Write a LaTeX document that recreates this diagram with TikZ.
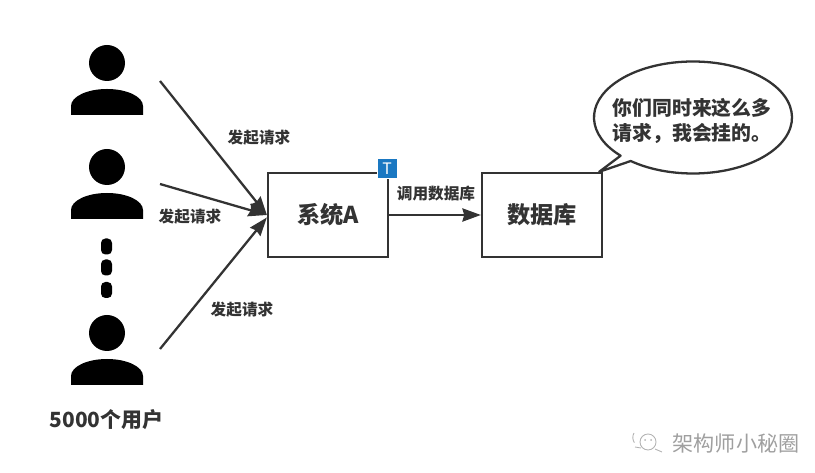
\documentclass[tikz,border=0pt]{standalone}
\usepackage{fontspec}
\setmainfont{Noto Sans CJK SC}
\usetikzlibrary{arrows.meta}
\definecolor{inkgray}{HTML}{333333}
\definecolor{badgeblue}{HTML}{1A78C2}
\begin{document}
\begin{tikzpicture}[x=0.02cm, y=0.02cm, >={Stealth[length=10.5pt, width=7.5pt, inset=1pt]},
    box/.style={draw=inkgray, line width=1.3pt, fill=white, minimum width=2.4cm, minimum height=1.68cm, font=\bfseries\fontsize{13.2}{15}\selectfont, text=inkgray},
    flow/.style={->, draw=inkgray, line width=1.3pt},
    tag/.style={font=\bfseries\fontsize{8.9}{10}\selectfont, text=inkgray, inner sep=0pt}]
    \useasboundingbox (0,0) rectangle (815,473);

    \foreach \y in {410,306,140}
    {
        \fill[black] (107,\y) circle (18);
        \fill[black] (71,\y-52) -- (71,\y-43) arc (180:0:36 and 17) -- (143,\y-52) -- cycle;
    }
    \foreach \y in {226.5,205.5,183}
    {
        \fill[black, rounded corners=2.5] (101,\y-8) rectangle (112,\y+8);
    }
    \node[font=\bfseries\fontsize{11.9}{14}\selectfont, text=inkgray, inner sep=0pt] (crowd) at (106.5,53) {5000个用户};

    \coordinate (user1) at (160,392);
    \coordinate (user2) at (160,289);
    \coordinate (user3) at (160,124);

    \node[box] (sysA) at (328,258) {系统A};
    \node[box] (db) at (542,258) {数据库};

    \draw[flow] (user1) -- (sysA.west);
    \draw[flow] (user2) -- (sysA.west);
    \draw[flow] (user3) -- ([yshift=-.05cm]sysA.west);
    \draw[flow] (sysA.east) -- (db.west);

    \node[tag] (req1) at (259,335) {发起请求};
    \node[tag] (req2) at (190,256) {发起请求};
    \node[tag] (req3) at (242,163) {发起请求};
    \node[tag] (call) at (436,279) {调用数据库};

    \node[draw=white, line width=.4pt, fill=badgeblue, text=white, minimum size=.4cm, inner sep=0pt, font=\fontsize{9}{10}\selectfont] (badge) at (387,304.5) {T};

    \draw[draw=inkgray, line width=1.3pt, fill=white, line join=round] ([xshift=-.08cm]db.north east) -- ([shift={(693,355.5)}]231:99 and 56) arc (231:583:99 and 56) -- cycle;
    \node[align=left, inner sep=0pt, text=inkgray, font=\bfseries\fontsize{11.3}{14.2}\selectfont] (say) at (692,352) {你们同时来这么多\\请求，我会挂的。};

    \node[text=gray!75, inner sep=0pt, font=\fontsize{12}{14}\selectfont] (mark) at (736,30) {架构师小秘圈};
    \draw[gray!60, line width=.5pt] (648,31) circle (8);
    \fill[gray!60] (645,33) circle (1) (651,33) circle (1);
    \draw[gray!60, line width=.5pt] (634,40) arc (150:215:9) (635,26) -- (641,25) (655,24) -- (662,21);
\end{tikzpicture}
\end{document}
